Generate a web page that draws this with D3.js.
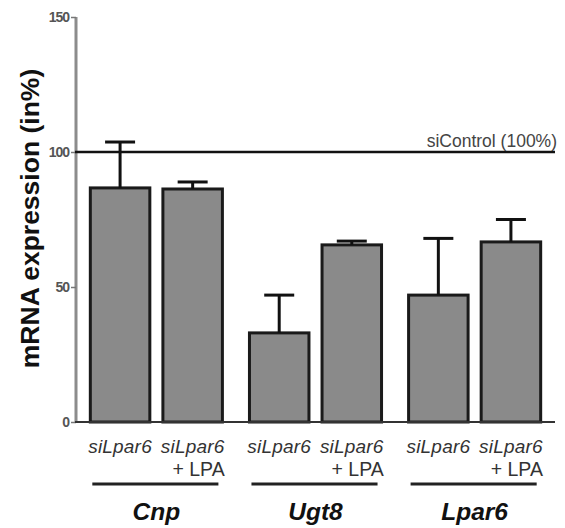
<!DOCTYPE html>
<html>
<head>
<meta charset="utf-8">
<script src="https://cdn.jsdelivr.net/npm/d3@7"></script>
<style>
  html, body { margin: 0; padding: 0; background: #fff; }
  svg { display: block; font-family: "Liberation Sans", Arial, sans-serif; }
</style>
</head>
<body>
<svg id="chart" width="565" height="528"></svg>
<script>
// ---- data ----
const genes = ["Cnp", "Ugt8", "Lpar6"];
const conditions = ["siLpar6", "siLpar6 + LPA"];
const meanSi = [86.7, 33, 47];
const meanSiLPA = [86.3, 65.6, 66.7];
const errSi = [17, 14, 21];
const errSiLPA = [2.6, 1.4, 8.3];
const yTicks = [0, 50, 100, 150];
const controlValue = 100;

const rows = [];
genes.forEach((g, i) => {
  rows.push({ gene: g, cond: conditions[0], mean: meanSi[i], err: errSi[i] });
  rows.push({ gene: g, cond: conditions[1], mean: meanSiLPA[i], err: errSiLPA[i] });
});

const svg = d3.select("#chart");
const axisX = 76, axisRight = 555;
const y = d3.scaleLinear().domain([0, 150]).range([422, 17]);
const xg = d3.scaleBand().domain(genes).range([axisX, axisRight]).paddingInner(0.17).paddingOuter(0.09);
const xc = d3.scaleBand().domain(conditions).range([0, xg.bandwidth()]).paddingInner(0.18);

// y axis
const yAxis = d3.axisLeft(y).tickValues(yTicks).tickSize(5).tickPadding(2).tickFormat(d3.format("d"));
const ga = svg.append("g").attr("transform", `translate(${axisX},0)`).call(yAxis);
ga.select(".domain").attr("stroke", "#8c8c8c").attr("stroke-width", 3).attr("d", `M0,${y(150)}V${y(0)}`);
ga.selectAll(".tick line").attr("stroke", "#777").attr("stroke-width", 1.5);
ga.selectAll(".tick text").attr("font-size", 14).attr("font-weight", "bold").attr("fill", "#555")
  .attr("letter-spacing", "-1").attr("font-family", "Liberation Sans, Arial, sans-serif");

// bars
const bars = svg.append("g");
bars.selectAll("rect").data(rows).join("rect")
  .attr("x", d => xg(d.gene) + xc(d.cond))
  .attr("y", d => y(d.mean))
  .attr("width", xc.bandwidth())
  .attr("height", d => y(0) - y(d.mean))
  .attr("fill", "#8a8a8a")
  .attr("stroke", "#1a1a1a")
  .attr("stroke-width", 3);

// error bars (upper only)
const eb = svg.append("g").attr("stroke", "#111").attr("stroke-width", 3);
rows.forEach(d => {
  const cx = xg(d.gene) + xc(d.cond) + xc.bandwidth() / 2;
  eb.append("line").attr("x1", cx).attr("x2", cx).attr("y1", y(d.mean)).attr("y2", y(d.mean + d.err));
  eb.append("line").attr("x1", cx - 15).attr("x2", cx + 15).attr("y1", y(d.mean + d.err)).attr("y2", y(d.mean + d.err));
});

// x baseline
svg.append("line").attr("x1", axisX - 1).attr("x2", axisRight).attr("y1", y(0)).attr("y2", y(0))
  .attr("stroke", "#333").attr("stroke-width", 2);

// control line
svg.append("line").attr("x1", axisX - 1).attr("x2", axisRight).attr("y1", y(controlValue)).attr("y2", y(controlValue))
  .attr("stroke", "#111").attr("stroke-width", 2.5);
svg.append("text").attr("x", axisRight + 2).attr("y", y(controlValue) - 5)
  .attr("text-anchor", "end").attr("font-size", 17.5).attr("fill", "#444")
  .text("siControl (100%)");

// condition labels
const lab = svg.append("g").attr("fill", "#333");
rows.forEach(d => {
  const left = xg(d.gene) + xc(d.cond);
  const cx = left + xc.bandwidth() / 2;
  lab.append("text").attr("x", cx).attr("y", 453).attr("text-anchor", "middle")
    .attr("font-size", 19).attr("font-style", "italic").attr("letter-spacing", "0.2")
    .text("siLpar6");
  if (d.cond === conditions[1]) {
    lab.append("text").attr("x", cx + 32).attr("y", 476).attr("text-anchor", "end")
      .attr("font-size", 19.5).text("+ LPA");
  }
});

// group lines and gene labels
genes.forEach(g => {
  const x0 = xg(g), x1 = xg(g) + xg.bandwidth();
  svg.append("line").attr("x1", x0 + 2).attr("x2", x1 - 4).attr("y1", 484).attr("y2", 484)
    .attr("stroke", "#222").attr("stroke-width", 3);
  svg.append("text").attr("x", (x0 + x1) / 2).attr("y", 520).attr("text-anchor", "middle")
    .attr("font-size", 24.5).attr("font-weight", "bold").attr("font-style", "italic").attr("fill", "#111")
    .text(g);
});

// y title
svg.append("text").attr("transform", `translate(39,${(70 + 367) / 2}) rotate(-90)`)
  .attr("text-anchor", "middle").attr("font-size", 26.5).attr("font-weight", "bold").attr("fill", "#111")
  .text("mRNA expression (in%)");
</script>
</body>
</html>
